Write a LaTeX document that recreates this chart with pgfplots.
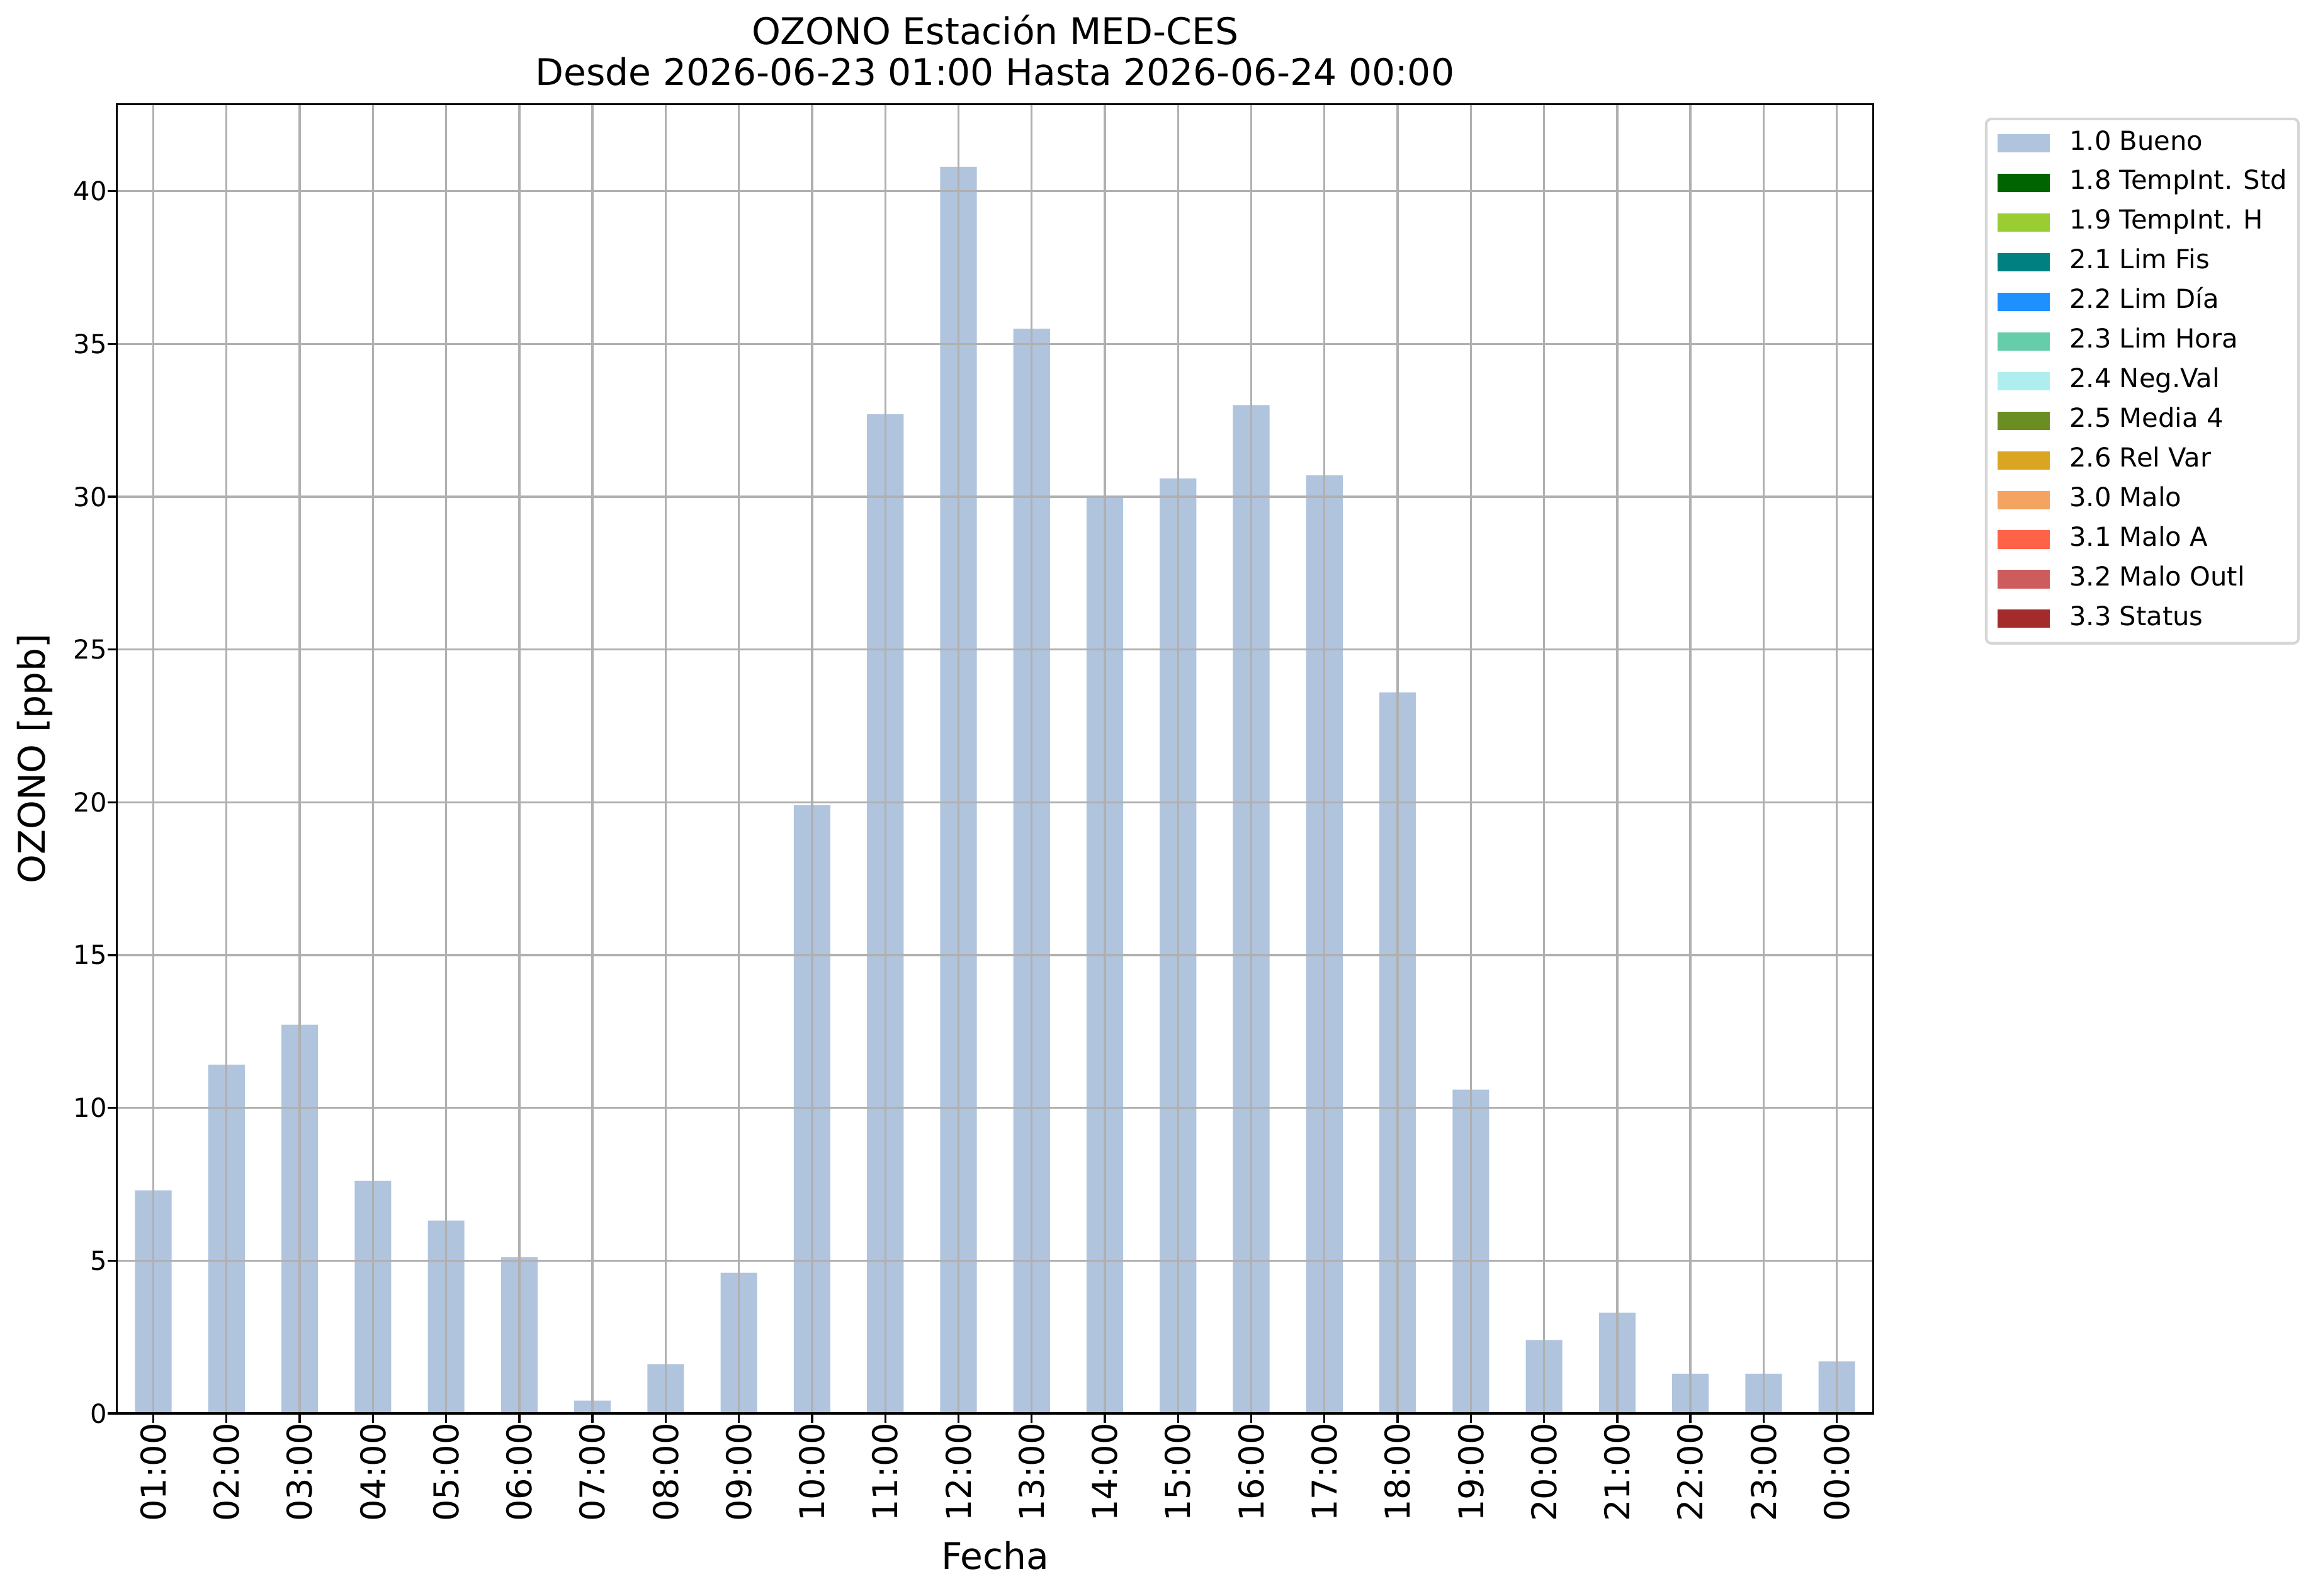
\documentclass[border=0pt]{standalone}
\usepackage{fontspec}
\setmainfont{DejaVu Sans}
\usepackage{pgfplots}
\pgfplotsset{compat=1.18}
\definecolor{cA}{HTML}{B0C4DE}
\definecolor{cB}{HTML}{006400}
\definecolor{cC}{HTML}{9ACD32}
\definecolor{cD}{HTML}{008080}
\definecolor{cE}{HTML}{1E90FF}
\definecolor{cF}{HTML}{66CDAA}
\definecolor{cG}{HTML}{AFEEEE}
\definecolor{cH}{HTML}{6B8E23}
\definecolor{cI}{HTML}{DAA520}
\definecolor{cJ}{HTML}{F4A460}
\definecolor{cK}{HTML}{FF6347}
\definecolor{cL}{HTML}{CD5C5C}
\definecolor{cM}{HTML}{A52A2A}
\definecolor{gridgray}{HTML}{B0B0B0}
\definecolor{legframe}{HTML}{D6D6D6}
\begin{document}
\begin{tikzpicture}
\begin{axis}[
  at={(0pt,0pt)}, anchor=south west,
  scale only axis, width=669.7pt, height=499pt,
  xmin=-0.5, xmax=23.5, ymin=0, ymax=42.84,
  xtick={0,1,...,23},
  xticklabels={01:00,02:00,03:00,04:00,05:00,06:00,07:00,08:00,09:00,10:00,11:00,12:00,13:00,14:00,15:00,16:00,17:00,18:00,19:00,20:00,21:00,22:00,23:00,00:00},
  ytick={0,5,...,40},
  /pgf/number format/assume math mode=true,
  tick pos=left, tick align=outside, major tick length=3.5pt,
  tick style={black, line width=0.8pt},
  axis line style={black, line width=0.8pt},
  grid=major, major grid style={color=gridgray, line width=0.8pt},
  axis on top,
  xticklabel style={rotate=90, anchor=east, inner sep=0pt, font=\fontsize{13}{15}\selectfont},
  yticklabel style={anchor=east, inner sep=0pt, font=\fontsize{10}{12}\selectfont},
  xlabel={Fecha},
  ylabel={OZONO [ppb]},
  xlabel style={at={(axis description cs:0.5,-0.11884)}, anchor=base, inner sep=0pt, font=\fontsize{14}{16}\selectfont},
  ylabel style={at={(axis description cs:-0.04091,0.5)}, rotate=0, anchor=base, inner sep=0pt, font=\fontsize{14}{16}\selectfont},
  title={OZONO Estación MED-CES\\Desde 2026-06-23 01:00 Hasta 2026-06-24 00:00},
  title style={at={(axis description cs:0.5,1)}, anchor=south, inner sep=0pt, yshift=0.8pt, align=center, font=\fontsize{14}{15.6}\selectfont},
  legend image code/.code={\fill[#1, draw=none, sharp corners] (0pt,-3.5pt) rectangle (20pt,3.5pt);},
  legend cell align=left,
  legend style={at={(axis description cs:1.06346,0.9899)}, anchor=north west,
    draw=legframe, line width=1pt, rounded corners=2pt, fill=white,
    inner xsep=4.3pt, inner ysep=4.3pt, row sep=5pt, column sep=7.5pt,
    font=\fontsize{10}{12}\selectfont,
    nodes={inner sep=0pt, text height=7.5pt, text depth=2.6pt}},
]
\addplot[ybar, bar width=0.5, bar shift=0pt, fill=cA, draw=none, forget plot] coordinates {
(0,7.30) (1,11.41) (2,12.72) (3,7.61) (4,6.31) (5,5.11) (6,0.42) (7,1.61)
(8,4.60) (9,19.9) (10,32.7) (11,40.8) (12,35.5) (13,30.0) (14,30.6) (15,33.0)
(16,30.7) (17,23.6) (18,10.6) (19,2.4) (20,3.3) (21,1.3) (22,1.3) (23,1.7)};
\addlegendimage{fill=cA}\addlegendentry{1.0 Bueno}
\addlegendimage{fill=cB}\addlegendentry{1.8 TempInt. Std}
\addlegendimage{fill=cC}\addlegendentry{1.9 TempInt. H}
\addlegendimage{fill=cD}\addlegendentry{2.1 Lim Fis}
\addlegendimage{fill=cE}\addlegendentry{2.2 Lim Día}
\addlegendimage{fill=cF}\addlegendentry{2.3 Lim Hora}
\addlegendimage{fill=cG}\addlegendentry{2.4 Neg.Val}
\addlegendimage{fill=cH}\addlegendentry{2.5 Media 4}
\addlegendimage{fill=cI}\addlegendentry{2.6 Rel Var}
\addlegendimage{fill=cJ}\addlegendentry{3.0 Malo}
\addlegendimage{fill=cK}\addlegendentry{3.1 Malo A}
\addlegendimage{fill=cL}\addlegendentry{3.2 Malo Outl}
\addlegendimage{fill=cM}\addlegendentry{3.3 Status}
\end{axis}
\pgfresetboundingbox
\path[use as bounding box] (-44.5pt,-69.4pt) rectangle (839.2pt,538.8pt);
\end{tikzpicture}
\end{document}
